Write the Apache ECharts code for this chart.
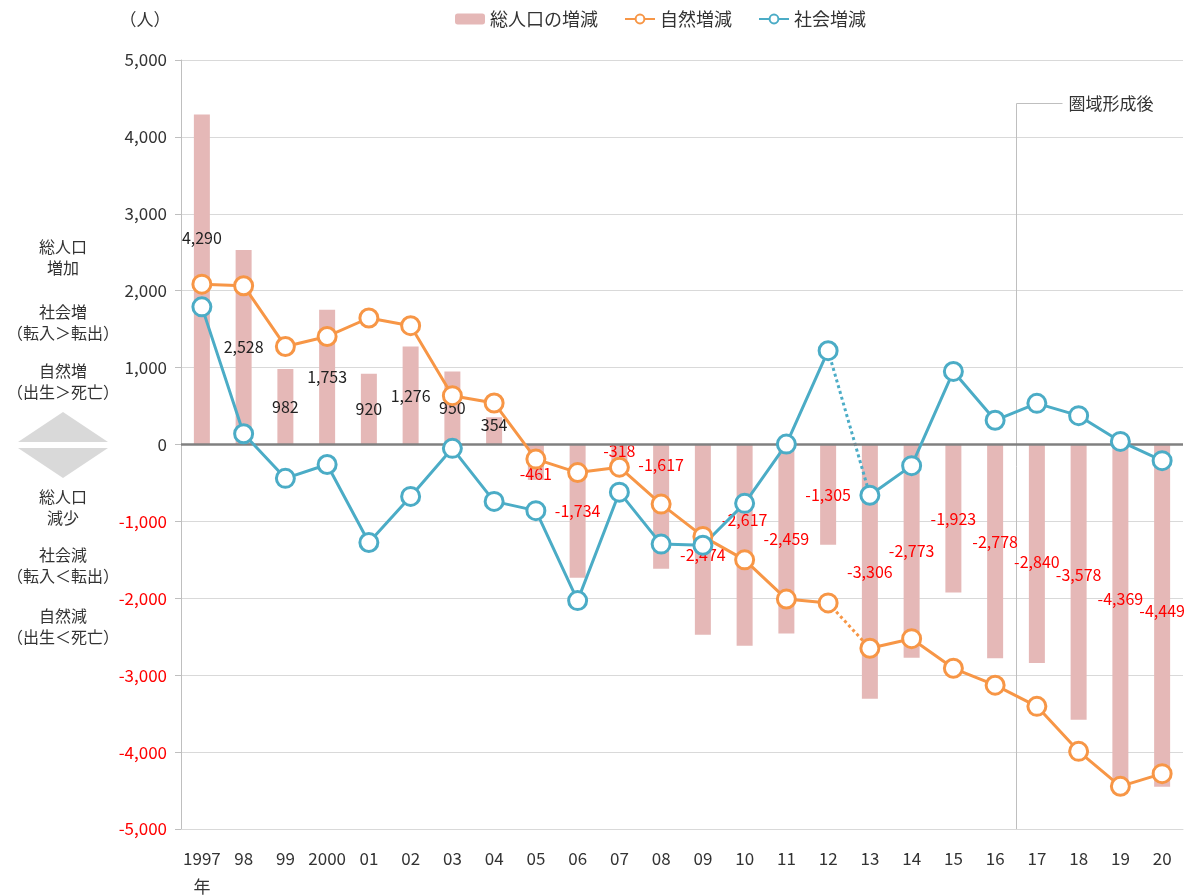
<!DOCTYPE html>
<html>
<head>
<meta charset="utf-8">
<script src="https://cdn.jsdelivr.net/npm/echarts@6/dist/echarts.min.js"></script>
<style>
html, body { margin: 0; padding: 0; background: #fff; }
#main { width: 1195px; height: 896px; }
</style>
</head>
<body>
<div id="main"></div>
<script>
// データ（人）
var years = ['1997', '98', '99', '2000', '01', '02', '03', '04', '05', '06', '07', '08', '09', '10', '11', '12', '13', '14', '15', '16', '17', '18', '19', '20'];
var totalChange = [4290, 2528, 982, 1753, 920, 1276, 950, 354, -461, -1734, -318, -1617, -2474, -2617, -2459, -1305, -3306, -2773, -1923, -2778, -2840, -3578, -4369, -4449];
var naturalChange = [2085, 2065, 1275, 1405, 1645, 1545, 635, 540, -190, -365, -295, -775, -1195, -1500, -2010, -2060, -2650, -2525, -2910, -3130, -3405, -3990, -4445, -4280];
var socialChange = [1790, 140, -440, -260, -1275, -675, -50, -740, -860, -2030, -620, -1295, -1310, -765, 5, 1220, -660, -275, 950, 315, 535, 375, 40, -210];
var yMin = -5000, yMax = 5000, yStep = 1000;

var breakIdx = 15;      // 2012→2013 は点線
var markerIdx = 19;     // 2016と2017の間に「圏域形成後」

var FONT = '"Noto Sans CJK JP", "Noto Sans", sans-serif';
var C_BAR = '#E5B8B7';
var C_NAT = '#F79646';
var C_SOC = '#4BACC6';

// ラベル位置の微調整（重なり回避）
var labelShift = { 0: -42, 7: -6, 8: 12, 10: -6, 11: -42, 12: 15, 13: -25, 19: -9, 20: 8, 21: -7, 22: -14, 23: -5 };

var barData = totalChange.map(function (v, i) {
    var d = { value: v, label: {} };
    if (labelShift[i] !== undefined) d.label.offset = [0, labelShift[i]];
    if (v < 0) d.label.color = '#FF0000';
    return d;
});

function part(arr, from, to) {
    return arr.map(function (v, i) { return (i >= from && i <= to) ? v : null; });
}

function lineSeries(name, arr, color) {
    var base = {
        name: name,
        type: 'line',
        symbol: 'circle',
        symbolSize: 18,
        color: color,
        lineStyle: { color: color, width: 3 },
        itemStyle: { color: '#fff', borderColor: color, borderWidth: 3 },
        z: 5
    };
    var a = Object.assign({}, base, { data: part(arr, 0, breakIdx) });
    var b = Object.assign({}, base, { data: part(arr, breakIdx + 1, arr.length - 1) });
    var dot = {
        name: name,
        type: 'line',
        symbol: 'none',
        color: color,
        lineStyle: { color: color, width: 3, type: 'dotted' },
        data: part(arr, breakIdx, breakIdx + 1),
        z: 4
    };
    return [a, b, dot];
}

var chart = echarts.init(document.getElementById('main'));

var sideText = [
    ['総人口\n増加', 257],
    ['社会増\n（転入＞転出）', 322],
    ['自然増\n（出生＞死亡）', 381],
    ['総人口\n減少', 507],
    ['社会減\n（転入＜転出）', 565],
    ['自然減\n（出生＜死亡）', 626]
];

var graphics = sideText.map(function (t) {
    return {
        type: 'text',
        x: 63, y: t[1],
        style: {
            text: t[0], align: 'center', verticalAlign: 'middle',
            fill: '#333', font: '16px ' + FONT, lineHeight: 21
        }
    };
});
graphics.push({
    type: 'polygon', shape: { points: [[18, 442], [63, 412], [108, 442]] },
    style: { fill: '#D9D9D9' }
});
graphics.push({
    type: 'polygon', shape: { points: [[18, 448], [63, 478], [108, 448]] },
    style: { fill: '#D9D9D9' }
});
graphics.push({
    type: 'text', x: 145, y: 20,
    style: { text: '（人）', align: 'center', verticalAlign: 'middle', fill: '#333', font: '17px ' + FONT }
});

var option = {
    animation: false,
    textStyle: { fontFamily: FONT },
    legend: {
        top: 5,
        left: 450,
        data: ['総人口の増減', '自然増減', '社会増減'],
        itemWidth: 30,
        itemHeight: 11,
        itemGap: 26,
        textStyle: { fontSize: 18, color: '#333', fontFamily: FONT }
    },
    grid: { left: 181, right: 12, top: 60, bottom: 67, outerBoundsMode: 'none' },
    xAxis: {
        type: 'category',
        data: years,
        axisLine: { onZero: false, lineStyle: { color: '#D9D9D9' } },
        axisTick: { show: false },
        axisLabel: {
            color: '#333', fontSize: 17, margin: 16, interval: 0, lineHeight: 28,
            formatter: function (v, i) { return i === 0 ? v + '\n年' : v; }
        }
    },
    yAxis: {
        type: 'value',
        min: yMin, max: yMax, interval: yStep,
        axisLine: { show: true, lineStyle: { color: '#BFBFBF' } },
        axisTick: { show: true, length: 6, lineStyle: { color: '#BFBFBF' } },
        splitLine: { lineStyle: { color: '#D9D9D9' } },
        axisLabel: {
            fontSize: 17, margin: 14,
            color: function (v) { return Number(v) < 0 ? '#FF0000' : '#333'; },
            formatter: function (v) { return v.toLocaleString('en-US'); }
        }
    },
    series: [
        {
            name: '総人口の増減',
            type: 'bar',
            barWidth: 16,
            itemStyle: { color: C_BAR },
            data: barData,
            label: {
                show: true,
                position: 'inside',
                fontSize: 16,
                fontFamily: FONT,
                formatter: function (p) { return p.value.toLocaleString('en-US'); },
                color: '#222'
            },
            markLine: {
                silent: true,
                symbol: 'none',
                label: { show: false },
                lineStyle: { color: '#808080', width: 2.5, type: 'solid' },
                data: [{ yAxis: 0 }]
            },
            z: 2
        }
    ].concat(lineSeries('自然増減', naturalChange, C_NAT))
     .concat(lineSeries('社会増減', socialChange, C_SOC)),
    graphic: graphics
};

chart.setOption(option);

// 圏域形成後の縦線
var x1 = chart.convertToPixel({ xAxisIndex: 0 }, markerIdx);
var x2 = chart.convertToPixel({ xAxisIndex: 0 }, markerIdx + 1);
var xm = Math.round((x1 + x2) / 2) + 0.5;
var yBottom = chart.convertToPixel({ yAxisIndex: 0 }, yMin);
graphics.push({
    type: 'polyline',
    shape: { points: [[xm + 46, 103.5], [xm, 103.5], [xm, yBottom]] },
    style: { stroke: '#BFBFBF', lineWidth: 1, fill: null },
    z: 1
});
graphics.push({
    type: 'text', x: xm + 52, y: 104,
    style: { text: '圏域形成後', verticalAlign: 'middle', fill: '#333', font: '17px ' + FONT }
});
chart.setOption({ graphic: graphics });
</script>
</body>
</html>
